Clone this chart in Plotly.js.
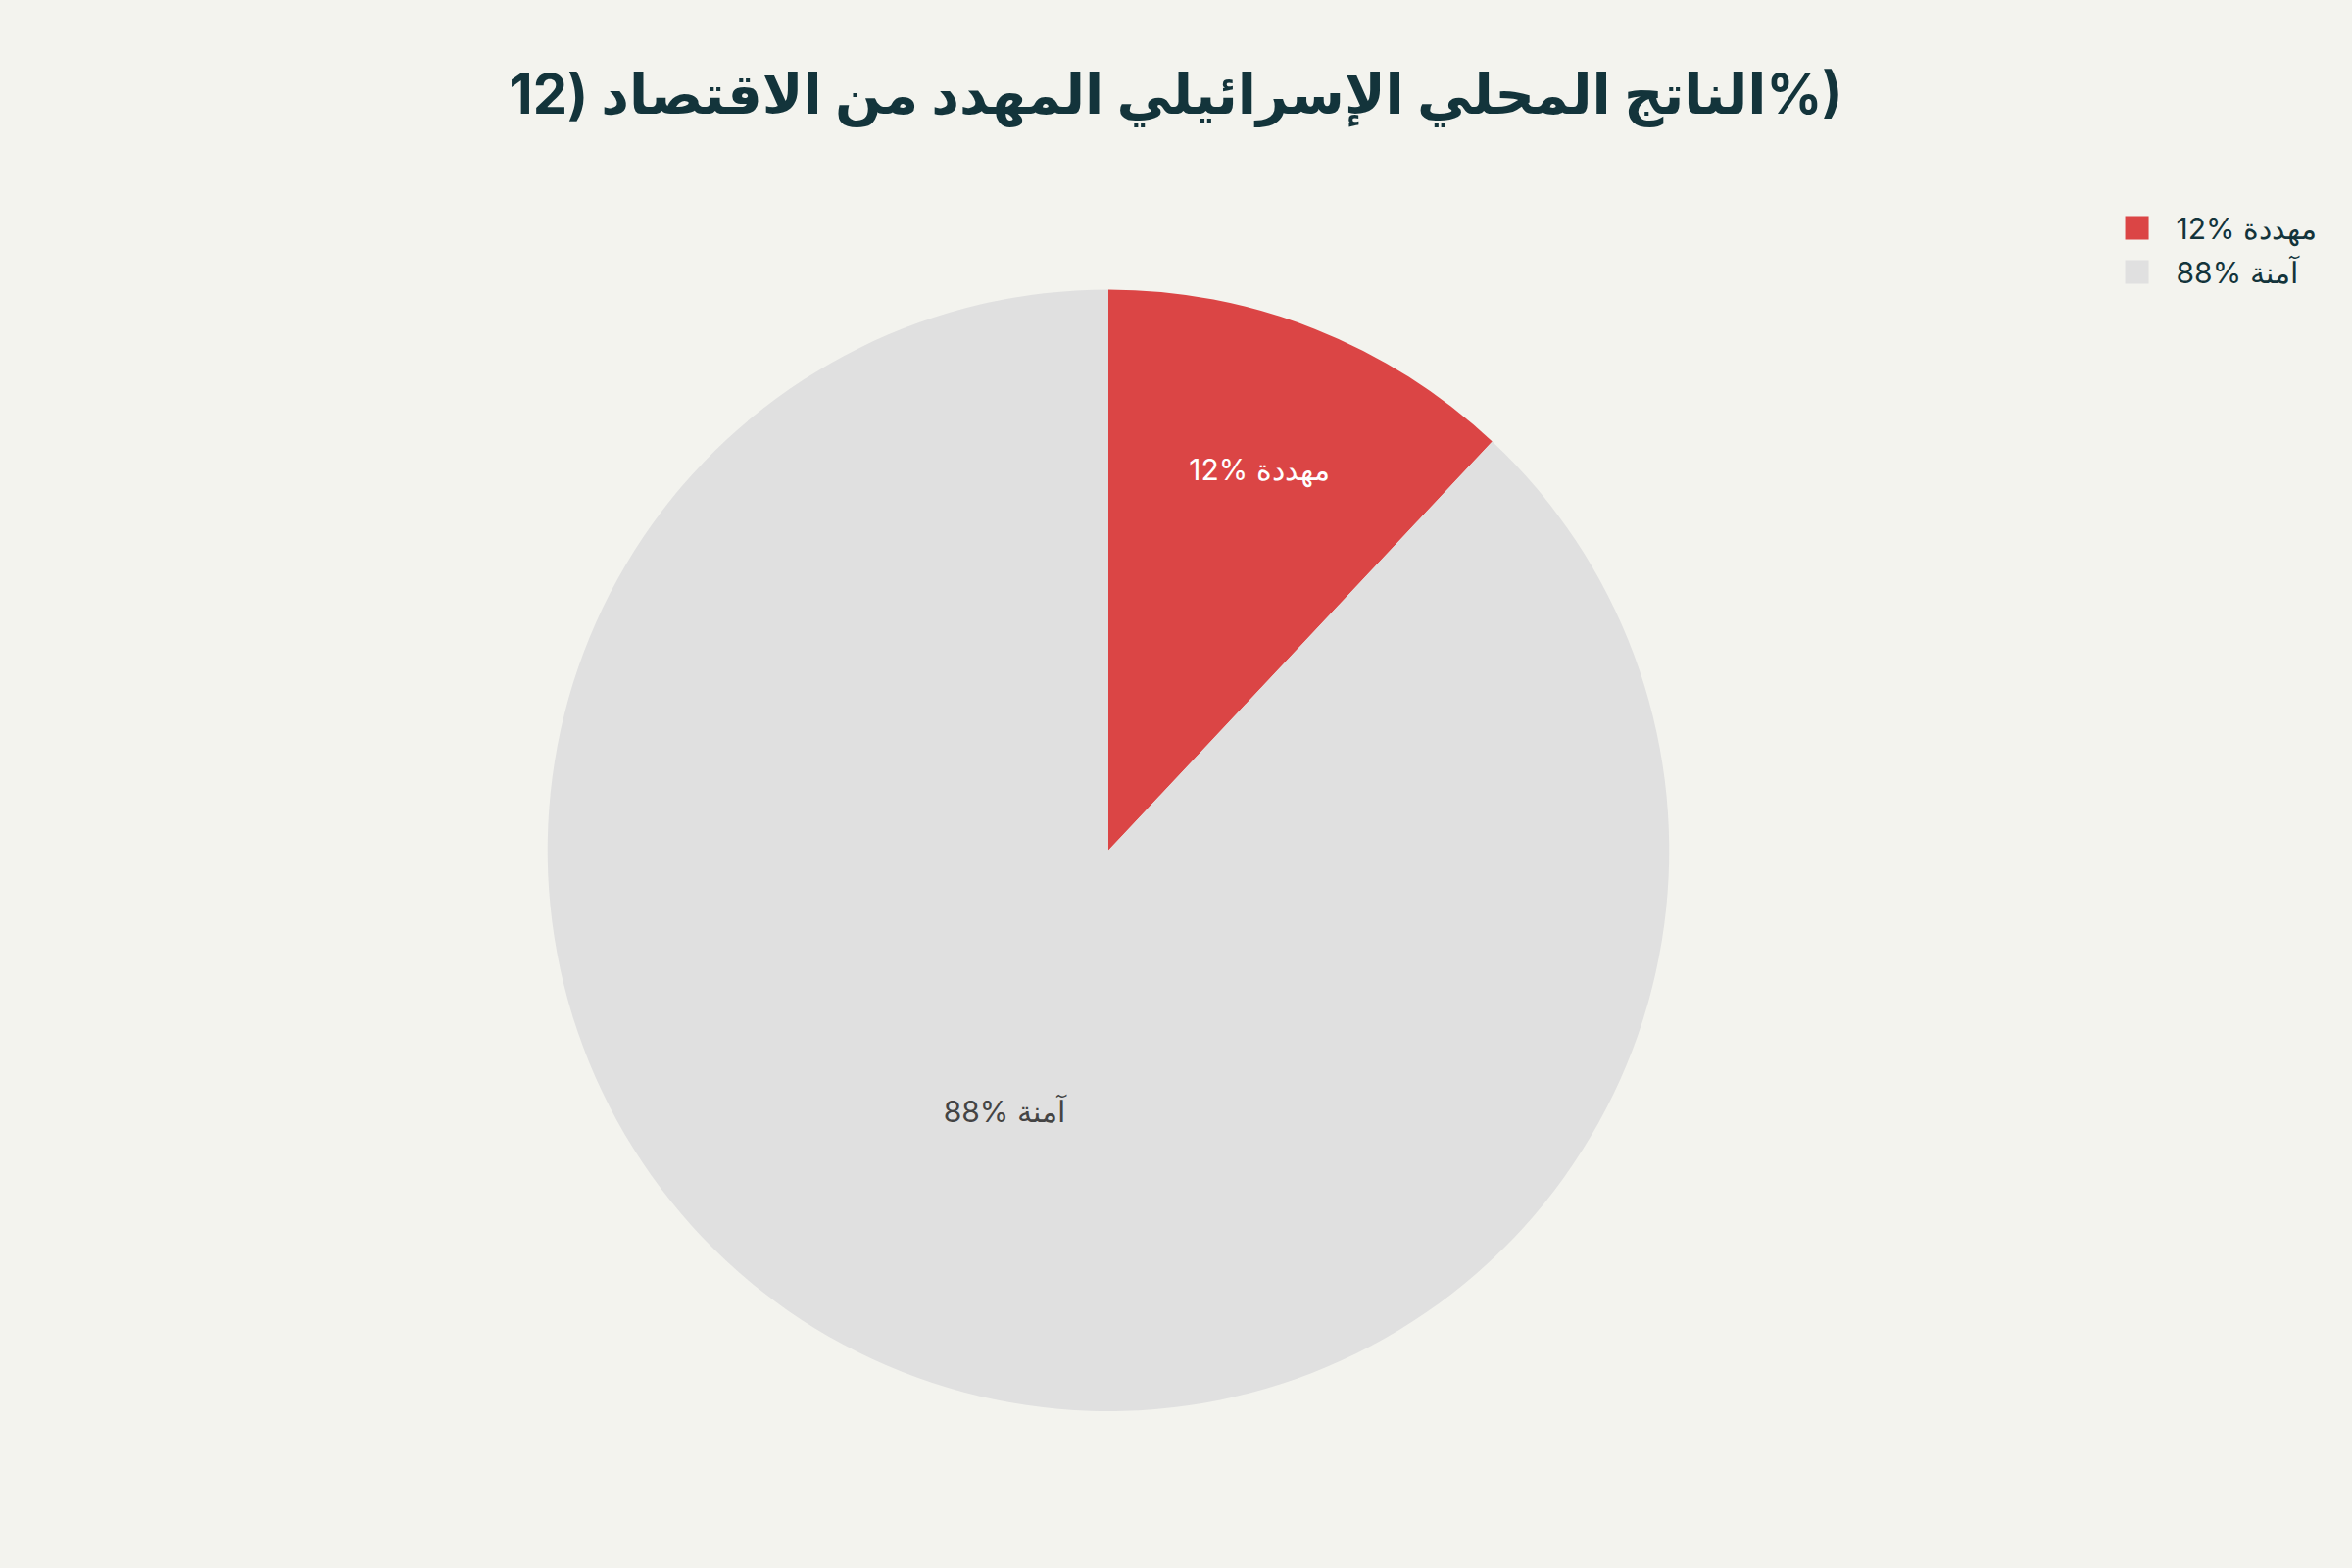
<!DOCTYPE html>
<html>
<head>
<meta charset="utf-8">
<script src="https://cdn.plot.ly/plotly-3.0.1.min.js"></script>
<style>
  html, body { margin: 0; padding: 0; background: #F3F3EE; }
  #plot { width: 1200px; height: 800px; zoom: 2; }
</style>
</head>
<body>
<div id="plot"></div>
<script>
// slices
var labels = ["12% مهددة", "88% آمنة"];
var values = [12, 88];
var colors = ["#DB4545", "#E0E0E0"];

// title, with an embedding so the browser orders it the way the chart shows it
var titleText = "\u202Bالناتج المحلي الإسرائيلي المهدد من الاقتصاد (12\u202C%)";

var trace = {
    type: "pie",
    labels: labels,
    values: values,
    marker: { colors: colors },
    textinfo: "label",
    textposition: "inside",
    insidetextorientation: "horizontal",
    sort: false,
    direction: "clockwise",
    rotation: 0,
    domain: { x: [0, 1], y: [0, 0.923] },
    textfont: { size: 15 }
};

var layout = {
    width: 1200,
    height: 800,
    paper_bgcolor: "#F3F3EE",
    plot_bgcolor: "#F3F3EE",
    font: { family: "Inter, 'Noto Sans', sans-serif", color: "#13343B", size: 15 },
    title: {
        text: "<b>" + titleText + "</b>",
        font: { family: "Inter, 'DejaVu Sans', sans-serif", size: 28, color: "#13343B" },
        x: 0.5,
        xanchor: "center",
        y: 0.94,
        yanchor: "middle"
    },
    margin: { t: 100, b: 80, l: 82, r: 148 },
    showlegend: true,
    legend: { font: { size: 15 }, x: 1.022, y: 1, xanchor: "left", yanchor: "top" }
};

Plotly.newPlot("plot", [trace], layout, { displayModeBar: false, staticPlot: true });
</script>
</body>
</html>
